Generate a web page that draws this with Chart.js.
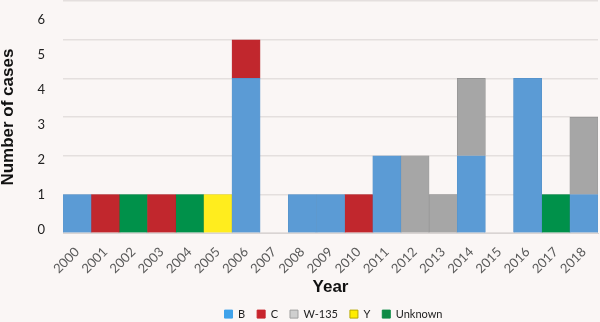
<!DOCTYPE html>
<html>
<head>
<meta charset="utf-8">
<script src="https://cdn.jsdelivr.net/npm/chart.js@4"></script>
<style>
  html, body { margin: 0; padding: 0; background: #FAF6F5; }
  #wrap { width: 600px; height: 322px; position: relative; }
</style>
</head>
<body>
<div id="wrap"><canvas id="c"></canvas></div>
<script>
const years = ['2000','2001','2002','2003','2004','2005','2006','2007','2008','2009','2010','2011','2012','2013','2014','2015','2016','2017','2018'];
const seriesB       = [1,0,0,0,0,0,4,0,1,1,0,2,0,0,2,0,4,0,1];
const seriesC       = [0,1,0,1,0,0,1,0,0,0,1,0,0,0,0,0,0,0,0];
const seriesW135    = [0,0,0,0,0,0,0,0,0,0,0,0,2,1,2,0,0,0,2];
const seriesY       = [0,0,0,0,0,1,0,0,0,0,0,0,0,0,0,0,0,0,0];
const seriesUnknown = [0,0,1,0,1,0,0,0,0,0,0,0,0,0,0,0,0,1,0];
const yTicks = [0,1,2,3,4,5,6];

const FONT = "Lato, 'Open Sans', sans-serif";
const mk = (label, data, color, border, legendColor, legendBorder) => ({
  label, data,
  backgroundColor: color,
  borderColor: border,
  borderWidth: 0.6,
  legendColor, legendBorder,
  barPercentage: 1.0,
  categoryPercentage: 1.0
});

// shift the legend so it is centred under the plot area, as in the reference
const legendShift = {
  id: 'legendShift',
  afterLayout(chart) {
    const lg = chart.legend, ca = chart.chartArea;
    if (!lg) return;
    const dx = (ca.left + ca.right) / 2 + 3 - (lg.left + lg.right) / 2;
    lg.left += dx; lg.right += dx;
  }
};

new Chart(document.getElementById('c'), {
  type: 'bar',
  data: {
    labels: years,
    datasets: [
      mk('B', seriesB, '#5B9BD5', '#5591C8', '#3FA2EA', '#3FA2EA'),
      mk('C', seriesC, '#C1272D', '#B22329', '#C8242C', '#C8242C'),
      mk('W-135', seriesW135, '#A6A6A6', '#8E8E8E', '#CFCFCF', '#A0A0A0'),
      mk('Y', seriesY, '#FFED1E', '#E6D51B', '#FFED00', '#B8A800'),
      mk('Unknown', seriesUnknown, '#00914A', '#008242', '#0E8B45', '#0E8B45')
    ]
  },
  plugins: [legendShift],
  options: {
    responsive: true,
    maintainAspectRatio: false,
    animation: false,
    layout: { padding: { top: 1, right: 2, left: 0, bottom: -7.6 } },
    plugins: {
      tooltip: { enabled: false },
      legend: {
        position: 'bottom',
        labels: {
          font: { family: FONT, size: 11 },
          color: '#222',
          boxWidth: 8,
          boxHeight: 8,
          padding: 12,
          generateLabels: (chart) => chart.data.datasets.map((ds, i) => ({
            text: ds.label,
            fillStyle: ds.legendColor,
            strokeStyle: ds.legendBorder,
            lineWidth: 1,
            fontColor: '#222',
            datasetIndex: i
          }))
        }
      }
    },
    scales: {
      x: {
        stacked: true,
        grid: { display: false },
        border: { display: true, color: '#D9D4D3', width: 1 },
        ticks: {
          font: { family: FONT, size: 13 },
          color: '#5A5A5A',
          minRotation: 45,
          maxRotation: 45,
          padding: 3
        },
        afterFit: (s) => { s.paddingLeft = 0; s.paddingRight = 0; },
        title: {
          display: true,
          text: 'Year',
          font: { family: "'Liberation Sans', Arial, sans-serif", size: 17, weight: 'bold' },
          color: '#111',
          padding: { top: -2.4, bottom: -1 }
        }
      },
      y: {
        stacked: true,
        position: 'left',
        min: 0,
        max: 6,
        afterBuildTicks: (axis) => { axis.ticks = yTicks.map(v => ({ value: v })); },
        grid: { color: '#E4DFDE', lineWidth: 1.5, drawTicks: false },
        border: { display: false },
        ticks: { display: false },
        afterFit: (s) => { s.paddingTop = 0; s.paddingBottom = 0; }
      },
      // label axis: the reference's tick numbers sit slightly off the gridlines
      yLabels: {
        position: 'left',
        min: -0.0857,
        max: 6.543,
        afterBuildTicks: (axis) => { axis.ticks = yTicks.map(v => ({ value: v })); },
        grid: { display: false, drawTicks: false },
        border: { display: false },
        ticks: {
          font: { family: FONT, size: 13 },
          color: '#222',
          padding: 18
        },
        afterFit: (s) => { s.paddingTop = 0; s.paddingBottom = 0; },
        title: {
          display: true,
          text: 'Number of cases',
          font: { family: "'Liberation Sans', Arial, sans-serif", size: 17, weight: 'bold' },
          color: '#111',
          padding: { top: -2.2, bottom: 1.3 }
        }
      }
    }
  }
});
</script>
</body>
</html>
